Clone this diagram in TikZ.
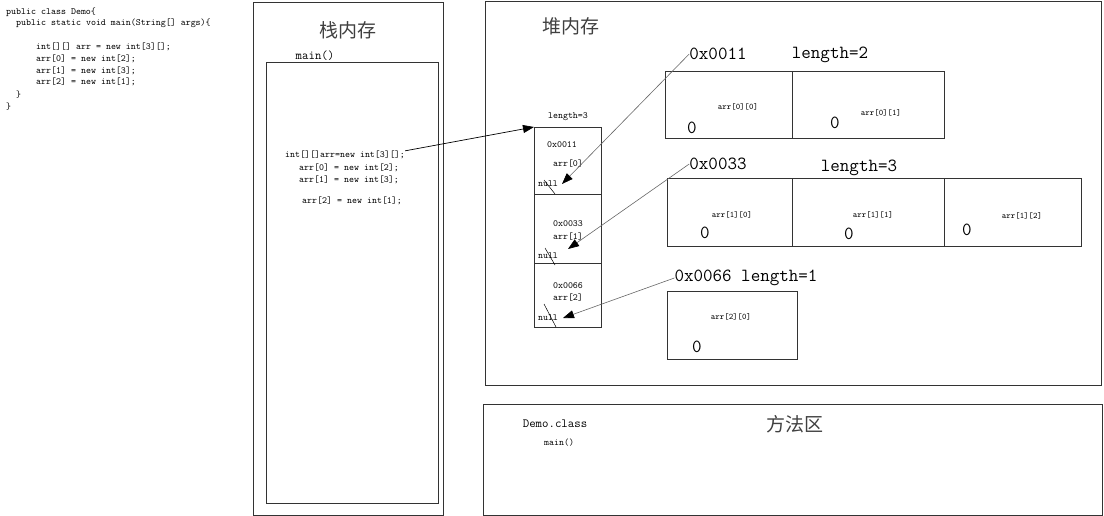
\documentclass[tikz,border=0pt]{standalone}
\usepackage{fontspec}
\newfontfamily\cjk{Noto Sans CJK SC}
\usetikzlibrary{arrows.meta}
\begin{document}
\begin{tikzpicture}[x=1pt,y=-1pt,
  box/.style={draw=black!80, line width=0.8pt, inner sep=0pt, anchor=north west},
  code/.style={font=\ttfamily\fontsize{9.5}{12}\selectfont, text=black, inner sep=0pt, anchor=west},
  big/.style={font=\ttfamily\fontsize{18.5}{20}\selectfont, inner sep=0pt},
  small/.style={font=\ttfamily\fontsize{8.5}{10}\selectfont, inner sep=0pt},
  cell/.style={font=\ttfamily\fontsize{9.5}{11}\selectfont, inner sep=0pt},
  title/.style={font=\cjk\fontsize{19}{20}\selectfont, text=black!75, inner sep=0pt},
  mid/.style={font=\ttfamily\fontsize{12.5}{14}\selectfont, inner sep=0pt},
  ptr/.style={draw=black!60, line width=0.6pt, -{Triangle[length=11pt,width=8pt,color=black]}},
  ptrk/.style={draw=black, line width=0.7pt, -{Triangle[length=11pt,width=8pt]}},
  slash/.style={draw=black, line width=0.5pt}]
\useasboundingbox (0,0) rectangle (1104,516);

% source code
\node[code] (s1) at (6,12) {public class Demo\{};
\node[code] (s2) at (16,23) {public static void main(String[] args)\{};
\node[code] (s3) at (36,47) {int[][] arr = new int[3][];};
\node[code] (s4) at (36,59) {arr[0] = new int[2];};
\node[code] (s5) at (36,71) {arr[1] = new int[3];};
\node[code] (s6) at (36,82) {arr[2] = new int[1];};
\node[code] (s7) at (16,95) {\}};
\node[code] (s8) at (6,107) {\}};

% stack
\node[box, minimum width=190pt, minimum height=513pt] (stack) at (253,2) {};
\node[title] (stacktitle) at (348,30) {栈内存};
\node[mid] (mainlbl) at (315,56) {main()};
\node[box, minimum width=172pt, minimum height=441pt] (frame) at (266,62) {};
\node[code] (c1) at (285,155) {int[][]arr=new int[3][];};
\node[code] (c2) at (299,168) {arr[0] = new int[2];};
\node[code] (c3) at (299,180) {arr[1] = new int[3];};
\node[code] (c4) at (302,201) {arr[2] = new int[1];};

% heap
\node[box, minimum width=616pt, minimum height=384pt] (heap) at (485,1) {};
\node[title] (heaptitle) at (571,26) {堆内存};

% outer array
\node[cell] (len3) at (568,117) {length=3};
\node[box, minimum width=67pt, minimum height=67pt] (a1) at (534,127) {};
\node[box, minimum width=67pt, minimum height=69pt] (a2) at (534,194) {};
\node[box, minimum width=67pt, minimum height=64pt] (a3) at (534,263) {};
\node[cell] (a1addr) at (562,145) {0x0011};
\node[cell] (a1name) at (568,164) {arr[0]};
\node[cell] (a1null) at (548,184) {null};
\node[cell] (a2addr) at (568,224) {0x0033};
\node[cell] (a2name) at (568,237) {arr[1]};
\node[cell] (a2null) at (548,256) {null};
\node[cell] (a3addr) at (568,286) {0x0066};
\node[cell] (a3name) at (568,298) {arr[2]};
\node[cell] (a3null) at (548,318) {null};
\draw[slash] (544,180) -- (555,194);
\draw[slash] (545,248) -- (555,265);
\draw[slash] (544,304) -- (556,327);

% inner array 0
\node[big] (h1addr) at (718,54) {0x0011};
\node[big] (h1len) at (830,55) {length=2};
\node[box, minimum width=127pt, minimum height=67pt] (b00) at (665,71) {};
\node[box, minimum width=152pt, minimum height=67pt] (b01) at (792,71) {};
\node[small] (b00n) at (738,107) {arr[0][0]};
\node[big] (b00v) at (692,128) {0};
\node[small] (b01n) at (881,113) {arr[0][1]};
\node[big] (b01v) at (835,123) {0};

% inner array 1
\node[big] (h2addr) at (718,164) {0x0033};
\node[big] (h2len) at (859,168) {length=3};
\node[box, minimum width=125pt, minimum height=68pt] (b10) at (667,178) {};
\node[box, minimum width=152pt, minimum height=68pt] (b11) at (792,178) {};
\node[box, minimum width=137pt, minimum height=68pt] (b12) at (944,178) {};
\node[small] (b10n) at (732,215) {arr[1][0]};
\node[big] (b10v) at (705,233) {0};
\node[small] (b11n) at (873,215) {arr[1][1]};
\node[big] (b11v) at (849,234) {0};
\node[small] (b12n) at (1022,216) {arr[1][2]};
\node[big] (b12v) at (967,230) {0};

% inner array 2
\node[big] (h3addr) at (746,278) {0x0066 length=1};
\node[box, minimum width=130pt, minimum height=68pt] (b20) at (667,291) {};
\node[small] (b20n) at (731,317) {arr[2][0]};
\node[big] (b20v) at (697,347) {0};

% method area
\node[box, minimum width=619pt, minimum height=111pt] (method) at (483,404) {};
\node[title] (methodtitle) at (795,424) {方法区};
\node[mid] (democlass) at (555,424) {Demo.class};
\node[code] (demomain) at (544,443) {main()};

% pointers
\coordinate (t1) at (562,184);
\coordinate (t2) at (568,249);
\coordinate (t3) at (563,318);
\draw[ptrk] (c1.north east) -- (a1.north west);
\draw[ptr] (h1addr.west) -- (t1);
\draw[ptr] (h2addr.west) -- (t2);
\draw[ptr] (h3addr.west) -- (t3);
\end{tikzpicture}
\end{document}
